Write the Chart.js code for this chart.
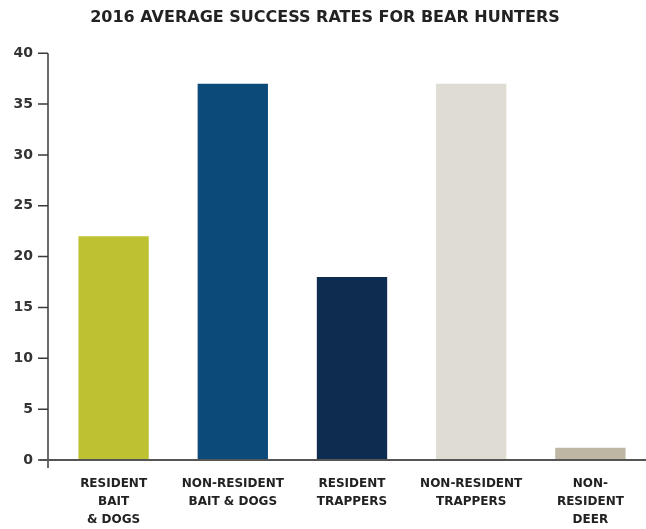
<!DOCTYPE html>
<html>
<head>
<meta charset="utf-8">
<script src="https://cdn.jsdelivr.net/npm/chart.js@4"></script>
<style>
  html, body { margin: 0; padding: 0; background: #fff; overflow: hidden; }
  #wrap { width: 650px; height: 529px; }
</style>
</head>
<body>
<div id="wrap"><canvas id="chart" width="650" height="529"></canvas></div>
<script>
const categories = [
  ["RESIDENT", "BAIT", "& DOGS"],
  ["NON-RESIDENT", "BAIT & DOGS"],
  ["RESIDENT", "TRAPPERS"],
  ["NON-RESIDENT", "TRAPPERS"],
  ["NON-", "RESIDENT", "DEER"]
];
const successRates = [22, 37, 18, 37, 1.2];
const barColors = ["#bdc132", "#0b4a79", "#0e2c4f", "#dfdcd3", "#bdb7a4"];
const yTicks = [0, 5, 10, 15, 20, 25, 30, 35, 40];

// draws the axis lines a little left of the plot, like the original
const axisLines = {
  id: "axisLines",
  afterDraw(chart) {
    const ctx = chart.ctx;
    const y = chart.scales.y;
    const axisX = chart.chartArea.left - 6;
    ctx.save();
    ctx.strokeStyle = "#3a3a3a";
    ctx.lineWidth = 1.5;
    ctx.beginPath();
    ctx.moveTo(axisX, y.getPixelForValue(40));
    ctx.lineTo(axisX, y.getPixelForValue(0) + 8);
    yTicks.forEach((t) => {
      const py = y.getPixelForValue(t);
      ctx.moveTo(axisX - 10, py);
      ctx.lineTo(axisX, py);
    });
    ctx.stroke();
    ctx.strokeStyle = "#555";
    ctx.lineWidth = 2;
    ctx.beginPath();
    ctx.moveTo(axisX - 8, y.getPixelForValue(0));
    ctx.lineTo(chart.width, y.getPixelForValue(0));
    ctx.stroke();
    ctx.restore();
  }
};

new Chart(document.getElementById("chart"), {
  type: "bar",
  data: {
    labels: categories,
    datasets: [{
      data: successRates,
      backgroundColor: barColors,
      borderWidth: 0,
      categoryPercentage: 1,
      barPercentage: 0.59
    }]
  },
  options: {
    responsive: false,
    animation: false,
    layout: { padding: { left: 0, right: 0, top: 0, bottom: 0 } },
    plugins: {
      legend: { display: false },
      tooltip: { enabled: false },
      title: {
        display: true,
        text: "2016 AVERAGE SUCCESS RATES FOR BEAR HUNTERS",
        color: "#222",
        font: { family: "DejaVu Sans", size: 16, weight: "bold" },
        padding: { top: 8, bottom: 26 }
      }
    },
    scales: {
      x: {
        grid: { display: false },
        border: { display: false },
        ticks: {
          color: "#222",
          padding: 7,
          maxRotation: 0,
          autoSkip: false,
          font: { family: "DejaVu Sans", size: 12, weight: "bold", lineHeight: 1.5 }
        },
        afterFit(scale) { scale.height = 69; }
      },
      y: {
        min: 0,
        max: 40,
        grid: { display: false },
        border: { display: false },
        ticks: {
          stepSize: 5,
          color: "#333",
          padding: 13,
          font: { family: "DejaVu Sans", size: 14, weight: "bold" }
        },
        afterFit(scale) { scale.width = 54; }
      }
    }
  },
  plugins: [axisLines]
});
</script>
</body>
</html>
